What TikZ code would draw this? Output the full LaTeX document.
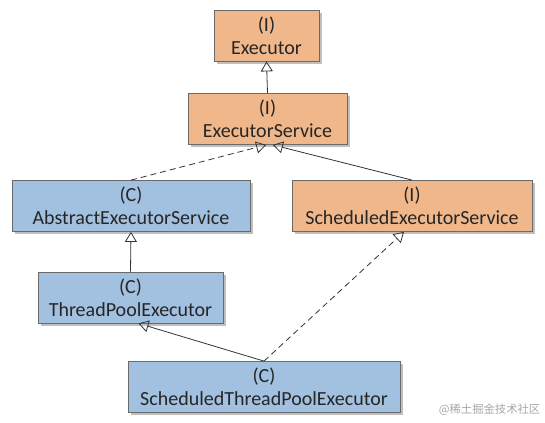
\documentclass[tikz,border=0pt]{standalone}
\usepackage{fontspec}
\setmainfont{Carlito}
\newfontfamily\cjk{Noto Sans CJK SC}
\usetikzlibrary{arrows.meta,shadows}
\definecolor{ifacefill}{HTML}{F0B78B}
\definecolor{classfill}{HTML}{A2C0DF}
\definecolor{boxline}{HTML}{6A6A6A}
\tikzset{
  box/.style={draw=boxline, line width=0.6pt, align=center, inner sep=0pt,
    minimum height=38.25pt, font=\fontsize{15}{17}\selectfont, text=black!85,
    drop shadow={shadow xshift=2pt, shadow yshift=-2pt, fill=black!25, opacity=1}},
  iface/.style={box, fill=ifacefill},
  klass/.style={box, fill=classfill},
  extends/.style={-{Triangle[open, width=9pt, length=7.5pt]}, line width=0.6pt, black!80},
  implements/.style={extends, dashed, dash pattern=on 4.5pt off 3pt}
}
\begin{document}
\begin{tikzpicture}[x=0.75pt,y=-0.75pt]
\useasboundingbox (0,0) rectangle (545,422);
% interfaces
\node[iface, minimum width=78.75pt] (exec) at (266.5,35.5) {(I)\\Executor};
\node[iface, minimum width=119.25pt] (execsvc) at (267.5,119) {(I)\\ExecutorService};
\node[iface, minimum width=180pt] (schedsvc) at (412,206) {(I)\\ScheduledExecutorService};
% classes
\node[klass, minimum width=178.5pt] (abstract) at (131,206) {(C)\\AbstractExecutorService};
\node[klass, minimum width=138.75pt] (pool) at (130.5,297.5) {(C)\\ThreadPoolExecutor};
\node[klass, minimum width=204pt] (schedpool) at (264,387) {(C)\\ScheduledThreadPoolExecutor};
% relations
\draw[extends] (execsvc.north) -- (exec.south);
\draw[implements] (abstract.north) -- ([xshift=-1pt]execsvc.south);
\draw[extends] (schedsvc.north) -- ([xshift=4pt]execsvc.south);
\draw[extends] (pool.north) -- (abstract.south);
\draw[extends] (schedpool.north) -- ([xshift=6pt]pool.south);
\draw[implements] (schedpool.north) -- ([xshift=-6pt]schedsvc.south);
% watermark
\node[anchor=east, text=black!35, font=\cjk\fontsize{8.5}{10}\selectfont] (mark) at (545,410) {@稀土掘金技术社区};
\end{tikzpicture}
\end{document}
